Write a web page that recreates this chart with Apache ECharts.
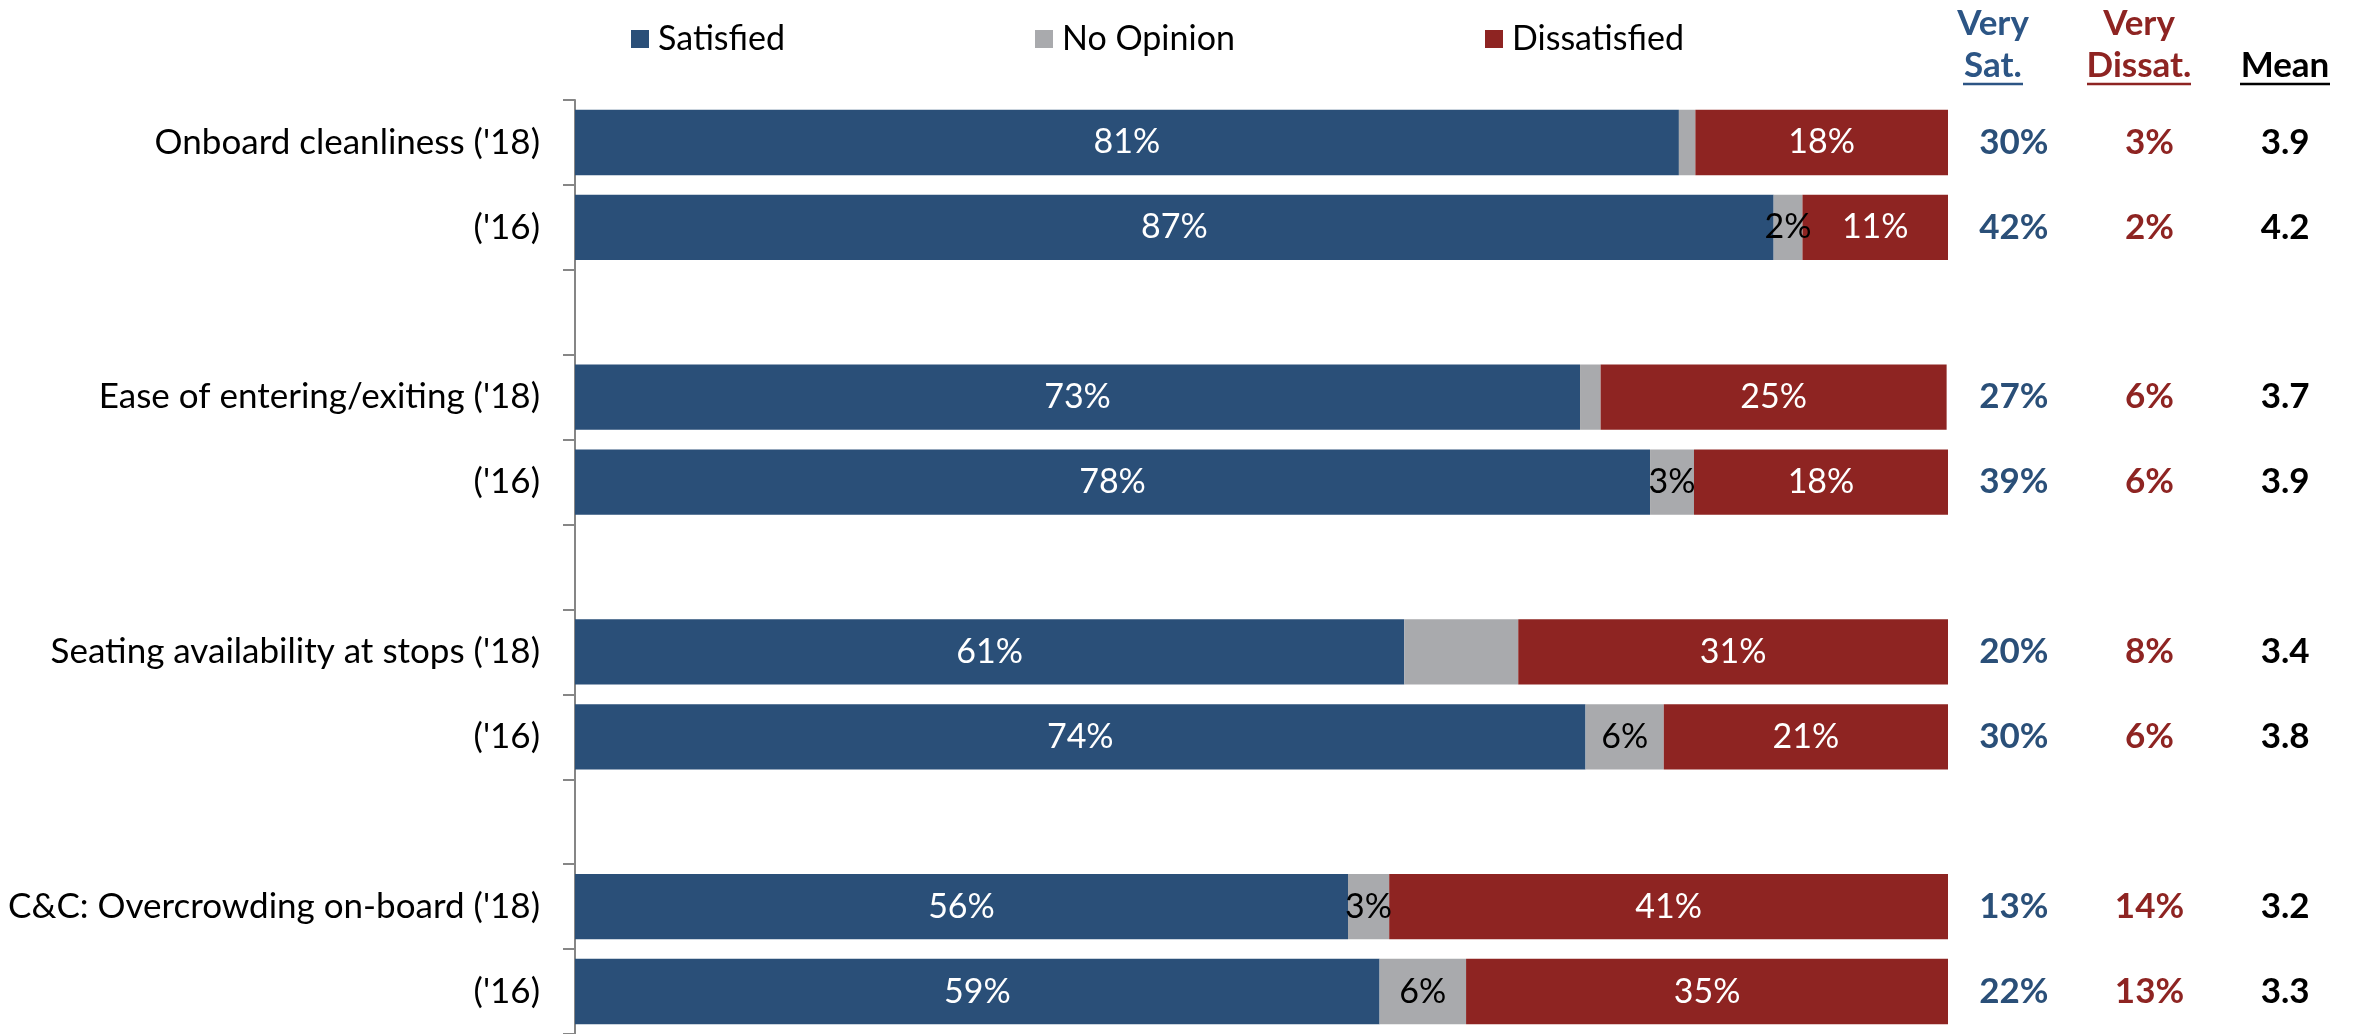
<!DOCTYPE html>
<html>
<head>
<meta charset="utf-8">
<script src="https://cdn.jsdelivr.net/npm/echarts@6/dist/echarts.min.js"></script>
<style>
html,body{margin:0;padding:0;background:#fff;}
#chart{width:2353px;height:1034px;}
</style>
</head>
<body>
<div id="chart"></div>
<script>
const categories = ["Onboard cleanliness ('18)", "('16)", "", "Ease of entering/exiting ('18)", "('16)", " ", "Seating availability at stops ('18)", "('16)", "  ", "C&C: Overcrowding on-board ('18)", "('16)"];
const satisfied    = [80.4, 87.3, null, 73.2, 78.3, null, 60.4, 73.6, null, 56.3, 58.6];
const noOpinion    = [1.2, 2.1, null, 1.5, 3.2, null, 8.3, 5.7, null, 3.0, 6.3];
const dissatisfied = [18.4, 10.6, null, 25.2, 18.6, null, 31.3, 20.8, null, 40.8, 35.1];
const satLabels    = ['81%', '87%', '', '73%', '78%', '', '61%', '74%', '', '56%', '59%'];
const noOpLabels   = ['', '2%', '', '', '3%', '', '', '6%', '', '3%', '6%'];
const dissLabels   = ['18%', '11%', '', '25%', '18%', '', '31%', '21%', '', '41%', '35%'];
const verySat      = [30, 42, null, 27, 39, null, 20, 30, null, 13, 22];
const veryDissat   = [3, 2, null, 6, 6, null, 8, 6, null, 14, 13];
const meanScore    = [3.9, 4.2, null, 3.7, 3.9, null, 3.4, 3.8, null, 3.2, 3.3];
const tableColumns = ['Very Sat.', 'Very Dissat.', 'Mean'];

const BLUE = '#2A4F78', GREY = '#A9AAAD', RED = '#8E2422', HBLUE = '#2C5585';
const FONT = 'Lato';
const FS = 34;

const chart = echarts.init(document.getElementById('chart'));

function barSeries(name, data, labels, color, labelColor) {
  return {
    name: name, type: 'bar', stack: 'total', data: data,
    xAxisIndex: 0, yAxisIndex: 0,
    barCategoryGap: '23%',
    itemStyle: { color: color },
    label: {
      show: true, position: 'inside', color: labelColor,
      fontFamily: FONT, fontSize: FS,
      formatter: p => labels[p.dataIndex] || ''
    },
    emphasis: { disabled: true }
  };
}
function tableSeries(col, arr, color, fmt) {
  const d = [];
  arr.forEach((v, i) => { if (v != null) d.push([col, i, v]); });
  return {
    type: 'scatter', xAxisIndex: 1, yAxisIndex: 1, symbolSize: 0, data: d,
    itemStyle: { opacity: 1, color: color },
    label: {
      show: true, position: 'inside', color: color, fontFamily: FONT, opacity: 1,
      fontWeight: 'bold', fontSize: 35, formatter: p => fmt(p.value[2])
    },
    emphasis: { disabled: true }
  };
}
const legendBase = {
  icon: 'rect', itemWidth: 18, itemHeight: 18, top: 17, itemGap: 0,
  textStyle: { fontFamily: FONT, fontSize: FS, color: '#000', padding: [0, 0, 0, 4] },
  selectedMode: false
};
function headerText(x, y, text, color) {
  return { type: 'text', x: x, y: y, style: { text: text, fill: color, font: 'bold 35px Lato', align: 'center', verticalAlign: 'middle' } };
}
function underline(x1, x2, color) {
  return { type: 'line', shape: { x1: x1, y1: 84, x2: x2, y2: 84 }, style: { stroke: color, lineWidth: 2.5 } };
}

chart.setOption({
  animation: false,
  backgroundColor: '#fff',
  legend: [
    Object.assign({}, legendBase, { left: 626, data: ['Satisfied'] }),
    Object.assign({}, legendBase, { left: 1030, data: ['No Opinion'] }),
    Object.assign({}, legendBase, { left: 1480, data: ['Dissatisfied'] })
  ],
  grid: [
    { left: 575, width: 1373, top: 100, height: 939, containLabel: false },
    { left: 1946, width: 411, top: 100, height: 939, containLabel: false }
  ],
  xAxis: [
    { type: 'value', gridIndex: 0, min: 0, max: 100, show: false },
    { type: 'category', gridIndex: 1, data: tableColumns, show: false }
  ],
  yAxis: [
    {
      type: 'category', gridIndex: 0, data: categories, inverse: true,
      axisLine: { show: true, lineStyle: { color: '#868686', width: 2 } },
      axisTick: { show: true, length: 12, lineStyle: { color: '#868686', width: 2 } },
      axisLabel: { fontFamily: FONT, fontSize: 35, color: '#000', margin: 35 },
      splitLine: { show: false }
    },
    { type: 'category', gridIndex: 1, data: categories, inverse: true, show: false }
  ],
  series: [
    barSeries('Satisfied', satisfied, satLabels, BLUE, '#fff'),
    barSeries('No Opinion', noOpinion, noOpLabels, GREY, '#000'),
    barSeries('Dissatisfied', dissatisfied, dissLabels, RED, '#fff'),
    tableSeries(0, verySat, BLUE, v => v + '%'),
    tableSeries(1, veryDissat, RED, v => v + '%'),
    tableSeries(2, meanScore, '#000', v => v.toFixed(1))
  ],
  graphic: [
    headerText(1993, 24, 'Very', HBLUE),
    headerText(1993, 66, 'Sat.', HBLUE),
    underline(1963, 2023, HBLUE),
    headerText(2139, 24, 'Very', RED),
    headerText(2139, 66, 'Dissat.', RED),
    underline(2087, 2191, RED),
    headerText(2285, 66, 'Mean', '#000'),
    underline(2240, 2330, '#000')
  ]
});
</script>
</body>
</html>
